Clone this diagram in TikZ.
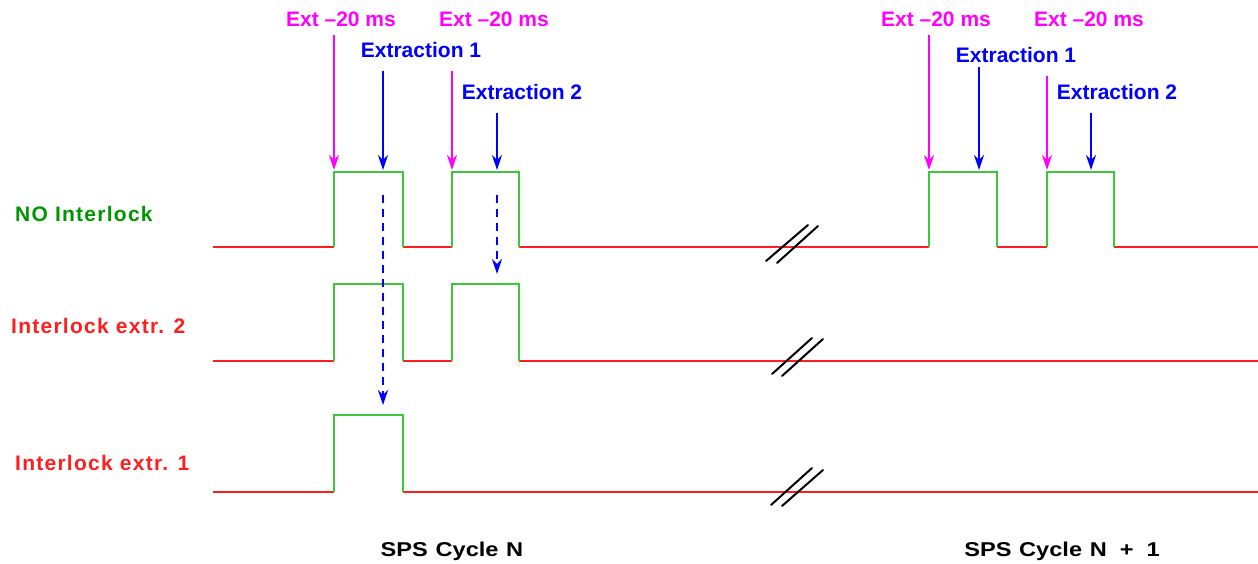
\documentclass[tikz,border=0pt]{standalone}
\usepackage{fontspec}
\setmainfont{Liberation Sans}
\newfontfamily\rowfont{Liberation Sans}[LetterSpace=6]
\usetikzlibrary{arrows.meta}
\definecolor{sig}{RGB}{60,200,60}
\definecolor{lowred}{RGB}{255,30,30}
\definecolor{mag}{RGB}{255,0,255}
\definecolor{extblue}{RGB}{0,0,255}
\definecolor{dgreen}{RGB}{0,150,0}
\newcommand\cycwide[1]{\scalebox{1.18}[1]{\spaceskip=6.5pt\relax #1}}
\newcommand\pluswide[1]{\spaceskip=11pt\relax #1}
\begin{document}
\begin{tikzpicture}[x=1pt,y=-1pt,
  lowline/.style={draw=lowred, line width=1.3pt},
  pulse/.style={draw=sig, line width=1.6pt},
  tipstyle/.style={-{Stealth[length=15pt,width=10pt,inset=5pt]}},
  prearrow/.style={draw=mag, line width=1.3pt, tipstyle},
  extarrow/.style={draw=extblue, line width=1.5pt, tipstyle},
  dasharrow/.style={extarrow, dash pattern=on 8pt off 6pt},
  toplabel/.style={inner sep=0pt, anchor=base, font=\bfseries\fontsize{21}{21}\selectfont},
  rowlabel/.style={inner sep=0pt, anchor=base west, font=\rowfont\bfseries\fontsize{21}{21}\selectfont},
  cyclabel/.style={inner sep=0pt, anchor=base, font=\bfseries\fontsize{20}{20}\selectfont},
  brk/.style={draw=black, line width=2pt, line cap=round}]
\useasboundingbox (0,0) rectangle (1258,564);

% row labels
\node[rowlabel, text=dgreen] (r1) at (15,222) {NO Interlock};
\node[rowlabel, text=lowred] (r2) at (11,333) {Interlock extr. 2};
\node[rowlabel, text=lowred] (r3) at (15,470) {Interlock extr. 1};

% row 1
\draw[lowline] (213,247) -- (334,247);
\draw[lowline] (403,247) -- (452,247);
\draw[lowline] (519,247) -- (929,247);
\draw[lowline] (997,247) -- (1047,247);
\draw[lowline] (1114,247) -- (1258,247);
\draw[pulse] (334,247) -- (334,172) -- (403,172) -- (403,247);
\draw[pulse] (452,247) -- (452,172) -- (519,172) -- (519,247);
\draw[pulse] (929,247) -- (929,172) -- (997,172) -- (997,247);
\draw[pulse] (1047,247) -- (1047,172) -- (1114,172) -- (1114,247);

% row 2
\draw[lowline] (213,361) -- (334,361);
\draw[lowline] (403,361) -- (452,361);
\draw[lowline] (519,361) -- (1258,361);
\draw[pulse] (334,361) -- (334,284) -- (403,284) -- (403,361);
\draw[pulse] (452,361) -- (452,284) -- (519,284) -- (519,361);

% row 3
\draw[lowline] (213,492) -- (334,492);
\draw[lowline] (403,492) -- (1258,492);
\draw[pulse] (334,492) -- (334,415) -- (403,415) -- (403,492);

% break marks
\draw[brk] (766,261) -- (808,225);
\draw[brk] (777,263) -- (818,226);
\draw[brk] (772,374) -- (812,338);
\draw[brk] (782,376) -- (823,339);
\draw[brk] (771,505) -- (812,468);
\draw[brk] (782,506) -- (823,470);

% top labels, cycle N
\node[toplabel, text=mag] (pa) at (341,27) {Ext --20 ms};
\node[toplabel, text=mag] (pb) at (494,27) {Ext --20 ms};
\node[toplabel, text=extblue] (ea) at (421,58) {Extraction 1};
\node[toplabel, text=extblue] (eb) at (522,100) {Extraction 2};
% top labels, cycle N+1
\node[toplabel, text=mag] (pc) at (936,27) {Ext --20 ms};
\node[toplabel, text=mag] (pd) at (1089,27) {Ext --20 ms};
\node[toplabel, text=extblue] (ec) at (1016,63) {Extraction 1};
\node[toplabel, text=extblue] (ed) at (1117,100) {Extraction 2};

% arrow coordinates
\coordinate (pas) at (334,35);  \coordinate (pae) at (334,170);
\coordinate (eas) at (383,71);  \coordinate (eae) at (383,170);
\coordinate (pbs) at (452,71);  \coordinate (pbe) at (452,170);
\coordinate (ebs) at (497,113); \coordinate (ebe) at (497,170);
\coordinate (pcs) at (929,35);  \coordinate (pce) at (929,170);
\coordinate (ecs) at (979,67);  \coordinate (ece) at (979,170);
\coordinate (pds) at (1047,76); \coordinate (pde) at (1047,170);
\coordinate (eds) at (1091,113);\coordinate (ede) at (1091,170);
\coordinate (das) at (383,195); \coordinate (dae) at (383,405);
\coordinate (dbs) at (497,195); \coordinate (dbe) at (497,274);

\draw[prearrow] (pas) -- (pae);
\draw[extarrow] (eas) -- (eae);
\draw[prearrow] (pbs) -- (pbe);
\draw[extarrow] (ebs) -- (ebe);
\draw[prearrow] (pcs) -- (pce);
\draw[extarrow] (ecs) -- (ece);
\draw[prearrow] (pds) -- (pde);
\draw[extarrow] (eds) -- (ede);
\draw[dasharrow] (das) -- (dae);
\draw[dasharrow] (dbs) -- (dbe);

% cycle labels
\node[cyclabel] (cn) at (452,556) {\cycwide{SPS Cycle N}};
\node[cyclabel] (cn1) at (1062,556) {\cycwide{SPS Cycle {\pluswide{N + 1}}}};
\end{tikzpicture}
\end{document}
